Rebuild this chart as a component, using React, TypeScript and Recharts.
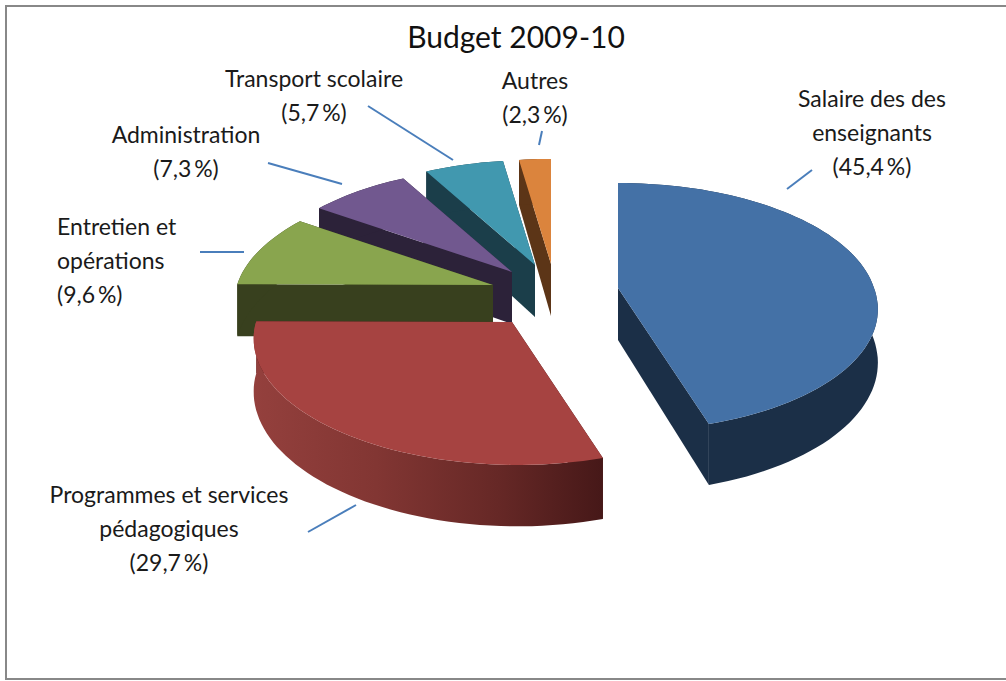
import React from 'react';
import { PieChart, Pie } from 'recharts';

const categories = [
  'Salaire des des enseignants',
  'Programmes et services pédagogiques',
  'Entretien et opérations',
  'Administration',
  'Transport scolaire',
  'Autres',
];
const shares = [45.4, 29.7, 9.6, 7.3, 5.7, 2.3];

const labelLines = [
  ['Salaire des des', 'enseignants'],
  ['Programmes et services', 'pédagogiques'],
  ['Entretien et', 'opérations'],
  ['Administration'],
  ['Transport scolaire'],
  ['Autres'],
];

const topColors = ['#4471a6', '#a64341', '#89a54e', '#71588f', '#4198af', '#db843d'];
const wallColors = ['#1b2f47', '#4a1a1a', '#38401e', '#2c2239', '#1b3e4a', '#5c3517'];
const arcFills = ['#1b2f47', 'url(#redWall)', '#38401e', '#2c2239', '#1b3e4a', '#5c3517'];

// how far each slice is pulled away from the pie centre, in px
const explode = [
  [98, 8],
  [-8, 42],
  [-27, 5],
  [-8, -8],
  [15, -15],
  [31, -16],
];

// label anchor, text-anchor and end points of the leader line
const labelSpots = [
  { x: 872, y: 107, anchor: 'middle', line: [787, 189, 812, 170] },
  { x: 169, y: 503, anchor: 'middle', line: [308, 532, 356, 505] },
  { x: 57, y: 235, anchor: 'start', line: [200, 252, 244, 252] },
  { x: 186, y: 143, anchor: 'middle', line: [268, 163, 342, 184] },
  { x: 314, y: 87, anchor: 'middle', line: [368, 106, 453, 160] },
  { x: 535, y: 89, anchor: 'middle', line: [542, 131, 539, 145] },
];

const FONT = 'Lato, "Open Sans", sans-serif';
const LINE_HEIGHT = 34;
const TILT = 0.473;
const PERSPECTIVE = 0.153;
const SKEW = 0.04;
const DEPTH = 52;

// painted back to front, so the table runs backwards round the pie
const table = categories
  .map((name, i) => ({ name, value: shares[i], idx: i }))
  .reverse();

const project = (deg: number, r: number, cx: number, cy: number, drop = 0) => {
  const t = ((90 - deg) * Math.PI) / 180;
  const xn = Math.sin(t) * (r > 0 ? 1 : 0);
  const yn = -Math.cos(t) * (r > 0 ? 1 : 0);
  const s = 1 / (1 - PERSPECTIVE * yn);
  const y = r * TILT * yn * s;
  return [cx + r * xn * s + SKEW * Math.max(y, 0), cy + y + drop * s];
};

const toPath = (pts: number[][]) =>
  'M' + pts.map((p) => p[0].toFixed(1) + ' ' + p[1].toFixed(1)).join('L') + 'Z';

const Slice3D = (props: any) => {
  const { cx, cy, outerRadius, startAngle, endAngle, payload } = props;
  const i = payload.idx;
  const ox = cx + explode[i][0];
  const oy = cy + explode[i][1];
  const steps = Math.max(2, Math.ceil(Math.abs(endAngle - startAngle) / 2));
  const angles: number[] = [];
  for (let k = 0; k <= steps; k++) {
    angles.push(startAngle + ((endAngle - startAngle) * k) / steps);
  }
  const arc = angles.map((a) => project(a, outerRadius, ox, oy));
  const arcLow = angles.map((a) => project(a, outerRadius, ox, oy, DEPTH));
  const apex = [ox, oy];
  const apexLow = [ox, oy + DEPTH];
  const first = arc[0];
  const firstLow = arcLow[0];
  const last = arc[arc.length - 1];
  const lastLow = arcLow[arcLow.length - 1];
  return (
    <g>
      <path d={toPath([apex, first, firstLow, apexLow])} fill={wallColors[i]} />
      <path d={toPath([apex, last, lastLow, apexLow])} fill={wallColors[i]} />
      <path d={toPath([...arc, ...arcLow.slice().reverse()])} fill={arcFills[i]} />
      <path d={toPath([apex, ...arc])} fill={topColors[i]} />
    </g>
  );
};

const SliceLabel = (props: any) => {
  const i = props.payload ? props.payload.idx : table[props.index].idx;
  const spot = labelSpots[i];
  const lines = [...labelLines[i], '(' + shares[i].toFixed(1).replace('.', ',') + '\u2009%)'];
  const [x1, y1, x2, y2] = spot.line;
  return (
    <g>
      <line x1={x1} y1={y1} x2={x2} y2={y2} stroke="#4a7ebb" strokeWidth={2} />
      {lines.map((t, k) => (
        <text
          key={k}
          x={spot.x}
          y={spot.y + k * LINE_HEIGHT}
          textAnchor={spot.anchor as any}
          fontFamily={FONT}
          fontSize={23}
          fill="#1a1a1a"
        >
          {t}
        </text>
      ))}
    </g>
  );
};

export default function App() {
  return (
    <div style={{ position: 'absolute', left: 0, top: 0, width: 1006, height: 681, background: '#fff' }}>
      <div
        style={{
          position: 'absolute',
          left: 5,
          top: 5,
          width: 1001,
          height: 675,
          boxSizing: 'border-box',
          borderTop: '2px solid #888',
          borderLeft: '2px solid #888',
          borderBottom: '2px solid #888',
        }}
      />
      <div style={{ position: 'absolute', left: 0, top: 0 }}>
        <PieChart width={1006} height={681} margin={{ top: 0, right: 0, bottom: 0, left: 0 }}>
          <defs>
            <linearGradient id="redWall" x1="0" y1="0" x2="1" y2="0">
              <stop offset="0%" stopColor="#94403d" />
              <stop offset="35%" stopColor="#823633" />
              <stop offset="70%" stopColor="#662826" />
              <stop offset="100%" stopColor="#461818" />
            </linearGradient>
          </defs>
          <text x={516} y={48} textAnchor="middle" fontFamily={FONT} fontSize={30} fill="#111">
            Budget 2009-10
          </text>
          <Pie
            data={table}
            dataKey="value"
            nameKey="name"
            cx={520}
            cy={280}
            innerRadius={0}
            outerRadius={256}
            startAngle={90}
            endAngle={450}
            stroke="none"
            shape={Slice3D}
            label={SliceLabel}
            labelLine={false}
            isAnimationActive={false}
          />
        </PieChart>
      </div>
    </div>
  );
}
